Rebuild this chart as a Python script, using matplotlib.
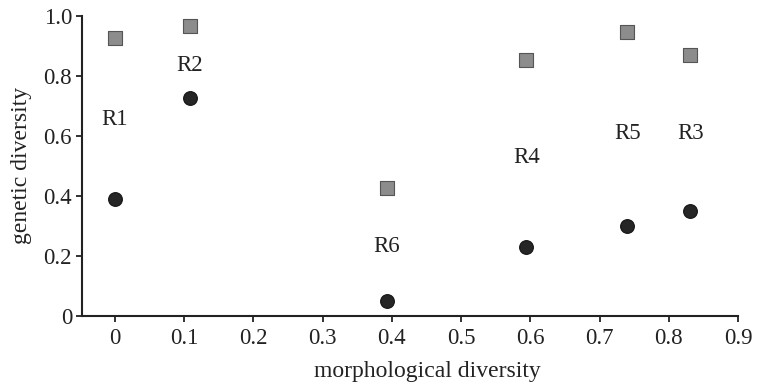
import numpy as np
import matplotlib
matplotlib.use('Agg')
import matplotlib.pyplot as plt

plt.rcParams['font.family'] = ['Liberation Serif', 'DejaVu Serif']

# Data
regions = ['R1', 'R2', 'R6', 'R4', 'R5', 'R3']
morph = [0.0, 0.108, 0.393, 0.594, 0.740, 0.831]
gen_square = [0.925, 0.965, 0.427, 0.852, 0.948, 0.870]
gen_circle = [0.390, 0.728, 0.050, 0.228, 0.300, 0.350]
label_y = [0.655, 0.835, 0.230, 0.527, 0.607, 0.607]

fig = plt.figure(figsize=(7.57, 3.89), dpi=100)
ax = fig.add_axes([0.108, 0.188, 0.867, 0.771])

ax.scatter(morph, gen_square, marker='s', s=90, color='#8c8c8c',
           edgecolors='#555555', linewidths=0.8, zorder=3)
ax.scatter(morph, gen_circle, marker='o', s=95, color='#262626',
           edgecolors='#1a1a1a', zorder=3)

for name, x, y in zip(regions, morph, label_y):
    ax.text(x, y, name, ha='center', va='center', fontsize=16.5, color='#222222')

ax.set_xlim(-0.048, 0.9)
ax.set_ylim(0, 1.0)
ax.set_xticks(np.arange(0, 0.91, 0.1))
ax.set_xticklabels(['0', '0.1', '0.2', '0.3', '0.4', '0.5', '0.6', '0.7', '0.8', '0.9'])
ax.set_yticks(np.arange(0, 1.01, 0.2))
ax.set_yticklabels(['0', '0.2', '0.4', '0.6', '0.8', '1.0'])

for side in ['top', 'right']:
    ax.spines[side].set_visible(False)
for side in ['left', 'bottom']:
    ax.spines[side].set_linewidth(1.5)
    ax.spines[side].set_color('#222222')

ax.tick_params(axis='both', labelsize=16.5, width=1.3, length=4, colors='#222222')
ax.tick_params(axis='x', pad=5)
ax.tick_params(axis='y', pad=3)

ax.set_xlabel('morphological diversity', fontsize=17, color='#222222')
ax.set_ylabel('genetic diversity', fontsize=17, color='#222222')
ax.xaxis.set_label_coords(0.526, -0.15)
ax.yaxis.set_label_coords(-0.076, 0.5)

fig.savefig('out.png', dpi=100)
